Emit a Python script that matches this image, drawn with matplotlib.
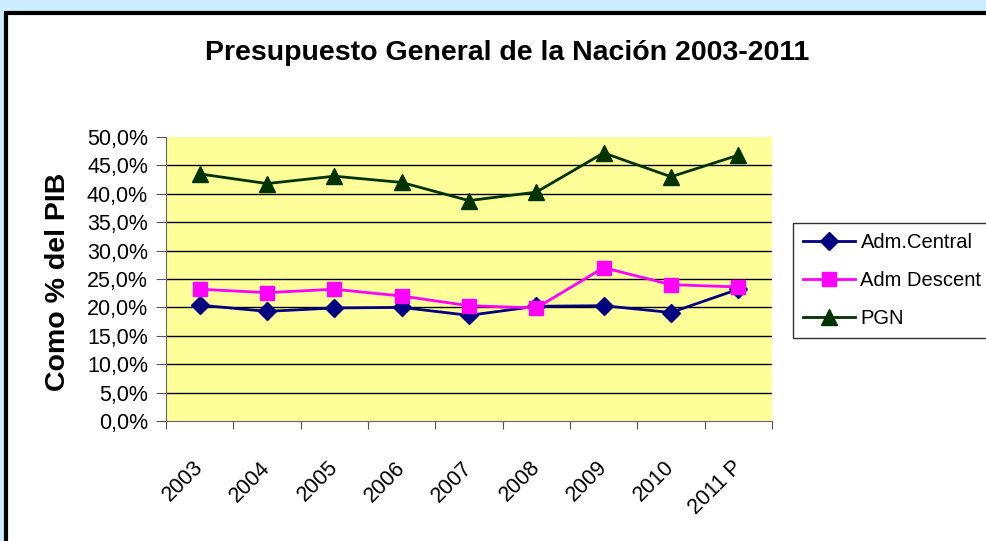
import numpy as np
import matplotlib.pyplot as plt
from matplotlib.patches import Rectangle
from matplotlib.transforms import ScaledTranslation

plt.rcParams['font.family'] = ['Liberation Sans', 'DejaVu Sans']

years = ['2003', '2004', '2005', '2006', '2007', '2008', '2009', '2010', '2011 P']
adm_central = [20.4, 19.3, 19.9, 20.0, 18.6, 20.2, 20.3, 19.1, 23.2]
adm_descent = [23.2, 22.6, 23.2, 22.0, 20.3, 19.9, 27.0, 24.0, 23.6]
pgn = [43.5, 41.8, 43.1, 42.0, 38.8, 40.3, 47.2, 43.0, 46.8]

fig = plt.figure(figsize=(9.86, 5.41), dpi=100, facecolor='#CCECFF')

# white chart frame, runs off the right and bottom edge
fig.patches.append(Rectangle((6 / 986, -0.1), 1.2, 1 - 13 / 541 + 0.1,
                             transform=fig.transFigure, facecolor='white',
                             edgecolor='black', linewidth=3, zorder=-5))

ax = fig.add_axes([166 / 986, 1 - 421 / 541, (772 - 166) / 986, (421 - 137) / 541])
ax.set_facecolor('#FFFF99')

x = np.arange(len(years))
ax.plot(x, adm_central, color='#000080', marker='D', markersize=9, linewidth=2,
        label='Adm.Central', zorder=3)
ax.plot(x, adm_descent, color='#FF00FF', marker='s', markersize=10, linewidth=2,
        label='Adm Descent', zorder=4)
ax.plot(x, pgn, color='#003300', marker='^', markersize=11, linewidth=2,
        label='PGN', zorder=3)

ax.set_xlim(-0.5, len(years) - 0.5)
ax.set_ylim(0, 50)
ax.set_yticks(np.arange(0, 51, 5))
ax.set_yticklabels([f'{v:.1f}%'.replace('.', ',') for v in np.arange(0, 51, 5)],
                   fontsize=15.5)
ax.set_xticks(np.arange(-0.5, len(years), 1))
ax.set_xticklabels([])
ax.set_xticks(x, minor=True)
ax.set_xticklabels(years, minor=True, rotation=45, ha='right', va='top',
                   rotation_mode='anchor', fontsize=15.5)
ax.tick_params(axis='x', which='minor', length=0, pad=26)
ax.tick_params(axis='x', which='major', length=6, direction='out', color='#555555')
ax.tick_params(axis='y', length=7, direction='out', color='#555555', pad=6)
shift = ScaledTranslation(-7 / 100, 0, fig.dpi_scale_trans)
for lbl in ax.get_xticklabels(minor=True):
    lbl.set_transform(lbl.get_transform() + shift)

ax.yaxis.grid(True, color='black', linewidth=1)
ax.get_ygridlines()[0].set_visible(False)
ax.get_ygridlines()[-1].set_visible(False)
ax.set_axisbelow(True)
for s in ['top', 'right']:
    ax.spines[s].set_visible(False)
ax.spines['left'].set_color('#666666')
ax.spines['bottom'].set_color('#666666')

ax.set_ylabel('Como % del PIB', fontsize=20.5, fontweight='bold')
ax.yaxis.set_label_coords(-0.157, 0.49)
fig.text(507 / 986, 1 - 53 / 541, 'Presupuesto General de la Nación 2003-2011',
         ha='center', va='center', fontsize=20.5, fontweight='bold')

leg = fig.legend(loc='upper left', bbox_to_anchor=(793 / 986, 1 - 223 / 541),
                 fontsize=14.5, frameon=True, fancybox=False, edgecolor='black',
                 handlelength=2.6, borderpad=0.5, labelspacing=0.95,
                 handletextpad=0.25, borderaxespad=0)
leg.get_frame().set_linewidth(1)

plt.savefig('out.png', dpi=100, facecolor=fig.get_facecolor())
